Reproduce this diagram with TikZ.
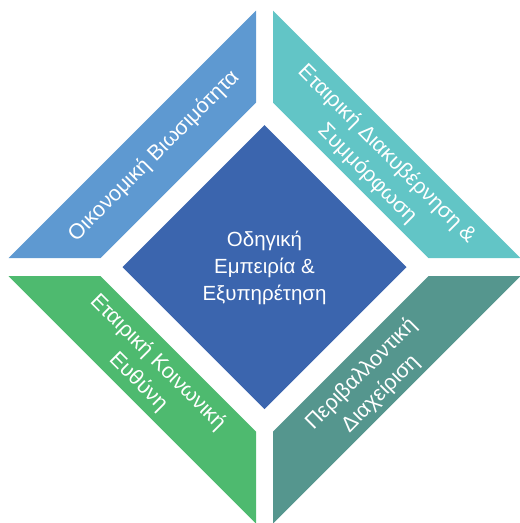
\documentclass[tikz,border=0pt]{standalone}
\usepackage{fontspec}
\setmainfont{Liberation Sans}
\definecolor{cTL}{HTML}{5E99D1}
\definecolor{cTR}{HTML}{62C5C6}
\definecolor{cBL}{HTML}{4EBA6F}
\definecolor{cBR}{HTML}{55968E}
\definecolor{cC}{HTML}{3B65AE}
\tikzset{
  piece/.style={draw=none},
  lbl/.style={text=white, font=\fontsize{20.5}{26.7}\selectfont, align=center, inner sep=0pt},
  rlbl/.style={text=white, font=\fontsize{21.5}{27.6}\selectfont, align=center, inner sep=0pt}
}
\newcommand{\quadpiece}[3]{%
  \begin{scope}[shift={(264.5,267)}, xscale=#1, yscale=#2]
    \fill[#3] (8.5,256.5) -- (256,9) -- (164,9) -- (8.5,164.5) -- cycle;
  \end{scope}}
\begin{document}
\begin{tikzpicture}[x=1pt,y=-1pt]
\useasboundingbox (0,0) rectangle (520,523);
\quadpiece{-1}{-1}{cTL}
\quadpiece{1}{-1}{cTR}
\quadpiece{-1}{1}{cBL}
\quadpiece{1}{1}{cBR}
\fill[cC] (264.5,125) -- (406.5,267) -- (264.5,409) -- (122.5,267) -- cycle;
\node[lbl] (center) at (264.5,268) {Οδηγική\\Εμπειρία \&\\Εξυπηρέτηση};
\node[rlbl, rotate=45] (tl) at (154,156) {Οικονομική Βιωσιμότητα};
\node[rlbl, rotate=-45] (tr) at (377,164) {Εταιρική Διακυβέρνηση \&\\Συμμόρφωση};
\node[rlbl, rotate=-45] (bl) at (148,372) {Εταιρική Κοινωνική\\Ευθύνη};
\node[rlbl, rotate=45] (br) at (371,384) {Περιβαλλοντική\\Διαχείριση};
\end{tikzpicture}
\end{document}
